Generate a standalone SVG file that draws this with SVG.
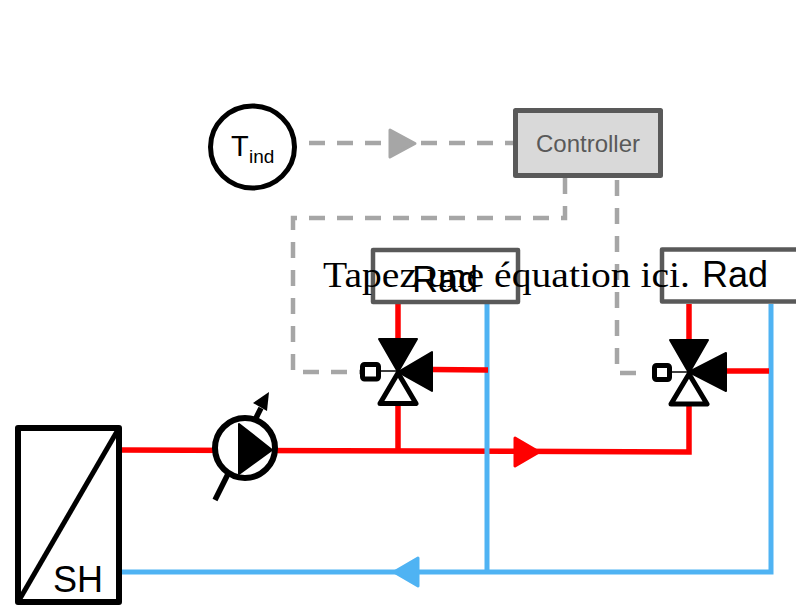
<svg xmlns="http://www.w3.org/2000/svg" width="796" height="606" viewBox="0 0 796 606">
<style>
.t{font-family:"Liberation Sans",Arial,sans-serif;fill:#000}
.ctl{fill:none;stroke:#a6a6a6;stroke-width:4.5;stroke-dasharray:16 12}
.red{fill:none;stroke:#f00;stroke-width:5.5;stroke-linejoin:miter}
.blue{fill:none;stroke:#4fb3f3;stroke-width:5;stroke-linejoin:miter}
.box{fill:#fff;stroke:#595959;stroke-width:4.5;stroke-linejoin:round}
.k{fill:#000;stroke:#000;stroke-width:2;stroke-linejoin:round}
</style>
<g id="connectors">
<path class="ctl" d="M309 143H514"/>
<path d="M390 130L415 143.500L390 157Z" fill="#a6a6a6" stroke="#a6a6a6" stroke-width="3" stroke-linejoin="round"/>
<path class="ctl" d="M565 178V218H293V372H362"/>
<path class="ctl" d="M617 180V373H642"/>
<path class="red" d="M122 450L689 452V406"/>
<path class="red" d="M398 304V340M398 405V451M689 304V340"/>
<path d="M515 438L539 452L515 466Z" fill="#f00" stroke="#f00" stroke-width="3" stroke-linejoin="round"/>
<path class="blue" d="M487 304V572M771 304V572H122"/>
<path d="M418 558L394 572L418 586Z" fill="#4fb3f3" stroke="#4fb3f3" stroke-width="3" stroke-linejoin="round"/>
<path class="red" d="M432 369.500L488 370M727 371H769"/>
</g>
<g id="tind">
<ellipse cx="252.500" cy="147" rx="42" ry="41" fill="#fff" stroke="#000" stroke-width="5"/>
<text class="t" x="231" y="155.500" font-size="29">T</text>
<text class="t" x="249" y="163" font-size="19">ind</text>
</g>
<g id="controller">
<rect x="515.500" y="110.500" width="145" height="65" fill="#d9d9d9" stroke="#595959" stroke-width="5" stroke-linejoin="round"/>
<text x="588" y="152" font-size="24" text-anchor="middle" font-family="Liberation Sans,Arial,sans-serif" fill="#595959">Controller</text>
</g>
<g id="rad1">
<rect class="box" x="373" y="250" width="145" height="52"/>
<text class="t" x="445" y="292" font-size="36" text-anchor="middle">Rad</text>
</g>
<g id="rad2">
<rect class="box" x="662" y="249.500" width="150" height="52"/>
<text class="t" x="735" y="287" font-size="36" text-anchor="middle">Rad</text>
</g>
<g id="valve1">
<path class="k" d="M379 339H417L398 372Z"/>
<path class="k" d="M432 352V391L398 372Z"/>
<path d="M398 373L416 403.500H380Z" fill="#fff" stroke="#000" stroke-width="5" stroke-linejoin="round"/>
<path d="M380 371H398" stroke="#000" stroke-width="1.500"/>
<rect x="362.500" y="364.500" width="16" height="14.500" rx="2" fill="#fff" stroke="#000" stroke-width="5"/>
</g>
<g id="valve2">
<path class="k" d="M670 340H708L689 373Z"/>
<path class="k" d="M726 353V391L689 372Z"/>
<path d="M689 374L707 404H671Z" fill="#fff" stroke="#000" stroke-width="5" stroke-linejoin="round"/>
<path d="M671 372H689" stroke="#000" stroke-width="1.500"/>
<rect x="654.500" y="365.500" width="15" height="14" rx="2" fill="#fff" stroke="#000" stroke-width="5"/>
</g>
<g id="pump">
<path d="M215 500L261 408" stroke="#000" stroke-width="5.500" fill="none"/>
<path d="M269 392L253 403L267 411Z" fill="#000"/>
<circle cx="245" cy="448" r="30" fill="#fff" stroke="#000" stroke-width="6"/>
<path class="k" d="M239 424L272 450L239 474Z"/>
</g>
<g id="sh">
<rect x="18" y="428" width="101" height="174" fill="#fff" stroke="#000" stroke-width="6" stroke-linejoin="round"/>
<path d="M119 428L18 602" stroke="#000" stroke-width="5" fill="none"/>
<text class="t" x="53" y="592" font-size="36">SH</text>
</g>
<text id="equation" x="323" y="287" font-size="36" font-family="Liberation Serif,serif" fill="#000" textLength="367" lengthAdjust="spacingAndGlyphs">Tapez une équation ici.</text>
</svg>
